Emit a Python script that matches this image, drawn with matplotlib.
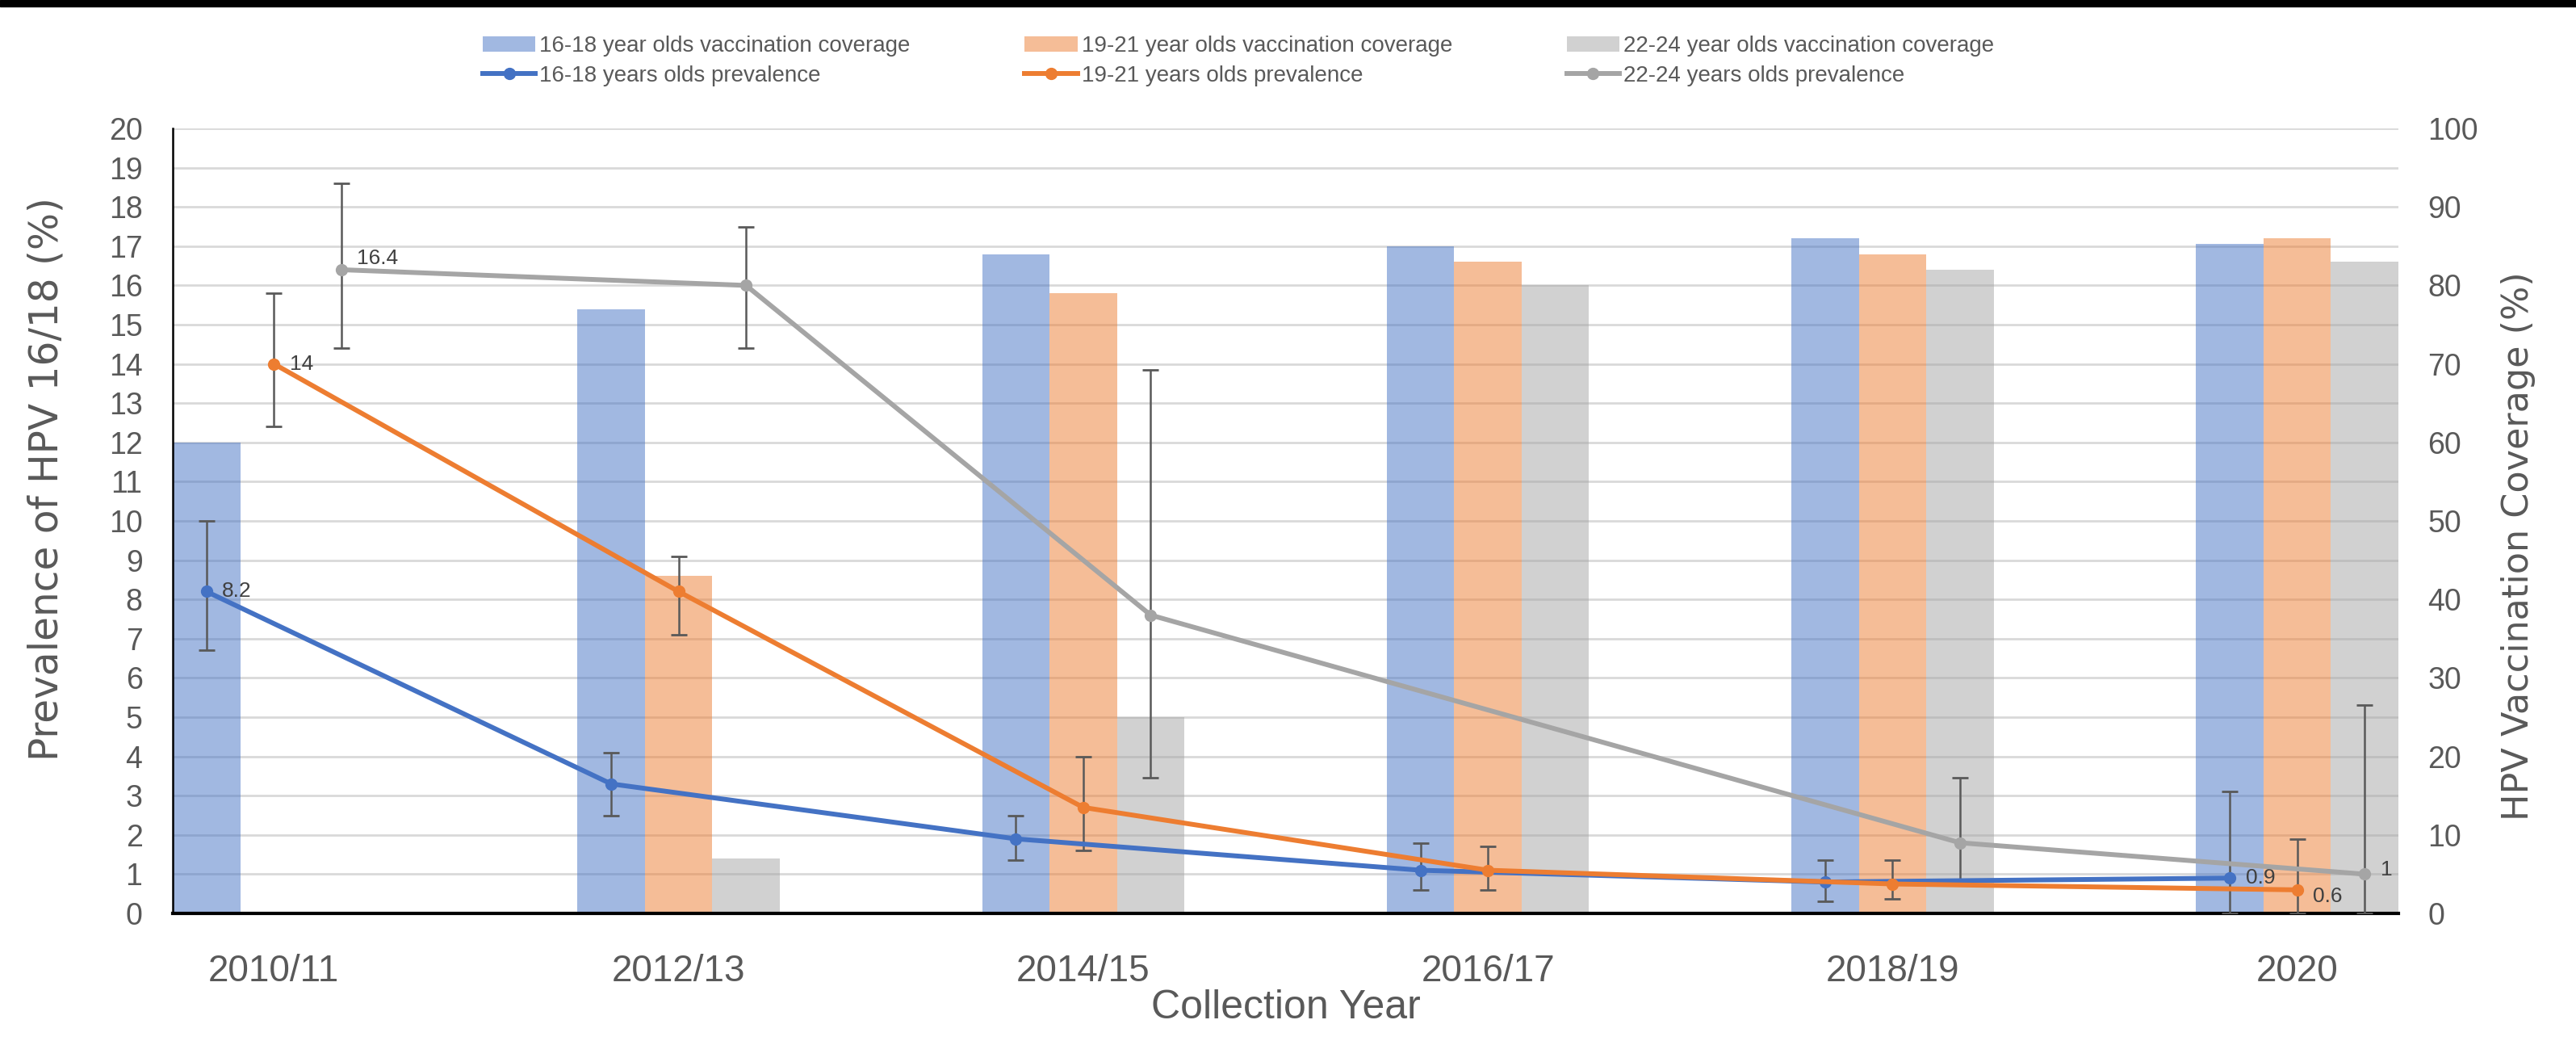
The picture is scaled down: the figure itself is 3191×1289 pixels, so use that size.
import matplotlib.pyplot as plt
import numpy as np
from matplotlib.patches import Rectangle
from matplotlib.ticker import MultipleLocator

# categories
years = ['2010/11', '2012/13', '2014/15', '2016/17', '2018/19', '2020']

# vaccination coverage (%), right axis
cov_1618 = [60, 77, 84, 85, 86, 85.3]
cov_1921 = [0, 43, 79, 83, 84, 86]
cov_2224 = [0, 7, 25, 80, 82, 83]

# HPV 16/18 prevalence (%), left axis
prev_1618 = [8.2, 3.3, 1.9, 1.1, 0.8, 0.9]
prev_1921 = [14.0, 8.2, 2.7, 1.1, 0.75, 0.6]
prev_2224 = [16.4, 16.0, 7.6, np.nan, 1.8, 1.0]

# confidence intervals (lower / upper)
lo_1618 = [6.7, 2.5, 1.35, 0.6, 0.3, 0.0]
hi_1618 = [10.0, 4.1, 2.5, 1.8, 1.35, 3.1]
lo_1921 = [12.4, 7.1, 1.6, 0.6, 0.37, 0.0]
hi_1921 = [15.8, 9.1, 4.0, 1.7, 1.35, 1.9]
lo_2224 = [14.4, 14.4, 3.45, np.nan, 0.82, 0.0]
hi_2224 = [18.6, 17.5, 13.85, np.nan, 3.45, 5.3]

NARROW = ['Liberation Sans', 'DejaVu Sans']
GREY_TXT = '#595959'

fig = plt.figure(figsize=(31.91, 12.89), dpi=100)
ax = fig.add_axes([214 / 3191, 1 - 1131 / 1289, 2757 / 3191, 972 / 1289])

x = np.arange(len(years))
w = 1 / 6

series = [
    ('16-18', cov_1618, prev_1618, lo_1618, hi_1618, '#4472C4', -w),
    ('19-21', cov_1921, prev_1921, lo_1921, hi_1921, '#ED7D31', 0),
    ('22-24', cov_2224, prev_2224, lo_2224, hi_2224, '#A5A5A5', w),
]

# bars on the coverage axis (drawn first, under the lines)
bar_handles = []
for name, cov, prev, lo, hi, col, off in series:
    b = ax.bar(x + off, cov, width=w, color=col, alpha=0.5, linewidth=0, zorder=2,
               label=name + ' year olds vaccination coverage')
    bar_handles.append(b)

# prevalence axis on top
ax2 = ax.twinx()

ax.set_ylim(0, 100)
ax.set_xlim(-0.25, 5.25)
ax.yaxis.tick_right()
ax.yaxis.set_major_locator(MultipleLocator(10))
ax.yaxis.set_minor_locator(MultipleLocator(5))
ax.set_axisbelow(True)
ax.grid(axis='y', which='both', color='#D9D9D9', linewidth=2)
ax.tick_params(axis='y', which='both', length=0, pad=26, labelsize=27, labelcolor=GREY_TXT)
ax.tick_params(axis='x', length=0, pad=36, labelsize=33, labelcolor=GREY_TXT)
ax.set_xticks(x)
ax.set_xticklabels(years, family=NARROW)
for t in ax.get_yticklabels():
    t.set_family(NARROW)
ax.spines['top'].set_visible(False)
ax.spines['right'].set_visible(False)
ax.spines['left'].set_linewidth(1.8)
ax.spines['bottom'].set_linewidth(3)

ax.yaxis.set_label_position('right')
ax.set_ylabel('HPV Vaccination Coverage (%)', fontsize=32, color=GREY_TXT,
              rotation=90, va='center', ha='center')
ax.yaxis.set_label_coords(1.054, 0.468)
ax.set_xlabel('Collection Year', fontsize=36, color=GREY_TXT, family=NARROW, va='center')
ax.xaxis.set_label_coords(0.5, -0.12)

ax2.yaxis.tick_left()
ax2.yaxis.set_label_position('left')
ax2.set_ylim(0, 20)
ax2.yaxis.set_major_locator(MultipleLocator(1))
ax2.tick_params(axis='y', length=0, pad=27, labelsize=27, labelcolor=GREY_TXT)
for t in ax2.get_yticklabels():
    t.set_family(NARROW)
for s in ax2.spines.values():
    s.set_visible(False)
ax2.set_ylabel('Prevalence of HPV 16/18 (%)', fontsize=35, color=GREY_TXT,
               va='center', ha='center')
ax2.yaxis.set_label_coords(-0.0569, 0.553)

label_offsets = [[(14, 0), (14, 0)], [(14, 0), (14, -6)], [(14, 10), (14, 4)]]

line_handles = []
for (name, cov, prev, lo, hi, col, off), offs in zip(series, label_offsets):
    p = np.array(prev, dtype=float)
    l = np.array(lo, dtype=float)
    h = np.array(hi, dtype=float)
    m = np.isfinite(p)
    xs = x[m] + off
    ax2.errorbar(xs, p[m], yerr=[p[m] - l[m], h[m] - p[m]], fmt='none',
                 ecolor='#595959', elinewidth=1.8, capsize=7, capthick=2, zorder=3)
    ln, = ax2.plot(xs, p[m], color=col, linewidth=4.3, marker='o', markersize=10,
                   zorder=4, label=name + ' years olds prevalence')
    line_handles.append(ln)
    # data labels on first and last points
    for idx, o in zip([0, -1], offs):
        ax2.annotate('%g' % p[m][idx], (xs[idx], p[m][idx]), xytext=o,
                     textcoords='offset points', ha='left', va='center',
                     fontsize=19, color='#404040', family=NARROW)

handles = []
for b, ln in zip(bar_handles, line_handles):
    handles += [b, ln]
fig.legend(handles=handles, loc='upper left', bbox_to_anchor=(598 / 3191, 1 - 44 / 1289),
           ncol=3, frameon=False, borderpad=0, borderaxespad=0,
           handlelength=2.35, handletextpad=0.18, columnspacing=5.1, labelspacing=0.4,
           prop={'family': NARROW, 'size': 20}, labelcolor=GREY_TXT)

# black strip along the top edge
fig.add_artist(Rectangle((0, 1 - 8 / 1289), 1, 8 / 1289, transform=fig.transFigure,
                         color='black', zorder=10))

fig.savefig('out.png', dpi=100)
